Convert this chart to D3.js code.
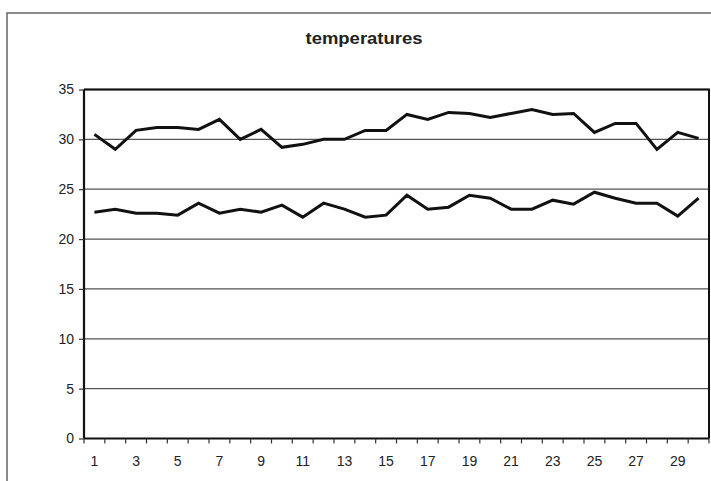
<!DOCTYPE html>
<meta charset="utf-8">
<style>
  body { margin: 0; background: #fff; }
  text { font-family: "Liberation Sans", Arial, sans-serif; fill: #222; }
  .line { fill: none; stroke: #111; stroke-width: 3px; stroke-linejoin: miter; }
</style>
<body>
<script src="https://cdn.jsdelivr.net/npm/d3@7/dist/d3.min.js"></script>
<script>
  var days = d3.range(1, 31)
  var highTemps = [30.5, 29.0, 30.9, 31.2, 31.2, 31.0, 32.0, 30.0, 31.0, 29.2,
    29.5, 30.0, 30.0, 30.9, 30.9, 32.5, 32.0, 32.7, 32.6, 32.2,
    32.6, 33.0, 32.5, 32.6, 30.7, 31.6, 31.6, 29.0, 30.7, 30.1]
  var lowTemps = [22.7, 23.0, 22.6, 22.6, 22.4, 23.6, 22.6, 23.0, 22.7, 23.4,
    22.2, 23.6, 23.0, 22.2, 22.4, 24.4, 23.0, 23.2, 24.4, 24.1,
    23.0, 23.0, 23.9, 23.5, 24.7, 24.1, 23.6, 23.6, 22.3, 24.1]
  var yTicks = [0, 5, 10, 15, 20, 25, 30, 35]
  var xLabels = days.filter(d => d % 2 == 1)

  var W = 711, H = 481
  var margin = { top: 89.5, right: 2, bottom: 42.5, left: 84 },
    width = W - margin.left - margin.right,
    height = H - margin.top - margin.bottom

  var root = d3.select("body").append("svg")
    .attr("width", W).attr("height", H)

  // outer frame
  root.append("rect")
    .attr("x", 7).attr("y", 13).attr("width", W + 10).attr("height", H + 10)
    .attr("fill", "none").attr("stroke", "#666").attr("stroke-width", 1.5)

  root.append("text")
    .attr("x", 364).attr("y", 44)
    .attr("text-anchor", "middle")
    .attr("textLength", 117).attr("lengthAdjust", "spacingAndGlyphs")
    .style("font-size", "16px").style("font-weight", "bold")
    .text("temperatures")

  var svg = root.append("g")
    .attr("transform", "translate(" + margin.left + "," + margin.top + ")")

  var x = d3.scaleBand().domain(days).range([0, width])
  var y = d3.scaleLinear().domain([0, 35]).range([height, 0])

  // gridlines
  svg.append("g").selectAll("line")
    .data(yTicks.filter(d => d > 0))
    .enter().append("line")
    .attr("x1", 0).attr("x2", width)
    .attr("y1", d => y(d)).attr("y2", d => y(d))
    .attr("stroke", "#555").attr("stroke-width", 1.3)

  // plot border (top/right)
  svg.append("path")
    .attr("d", "M0," + y(35) + "H" + width + "V" + height)
    .attr("fill", "none").attr("stroke", "#111").attr("stroke-width", 2)

  // y axis
  var yAxis = svg.append("g")
    .call(d3.axisLeft(y).tickValues(yTicks).tickSize(5).tickPadding(5))
  yAxis.select(".domain").attr("stroke", "#111").attr("stroke-width", 2.2)
    .attr("d", "M0,0V" + height)
  yAxis.selectAll(".tick line").attr("stroke", "#333").attr("stroke-width", 1.2)
  yAxis.selectAll("text").style("font-size", "14px").attr("fill", "#222")

  // x axis: ticks on category boundaries, labels on odd days
  var xg = svg.append("g").attr("transform", "translate(0," + height + ")")
  xg.append("line").attr("x1", 0).attr("x2", width)
    .attr("stroke", "#111").attr("stroke-width", 2.2)
  xg.selectAll(".bt").data(days.concat([31]))
    .enter().append("line").attr("class", "bt")
    .attr("x1", d => d <= 30 ? x(d) : width).attr("x2", d => d <= 30 ? x(d) : width)
    .attr("y1", 0).attr("y2", 5)
    .attr("stroke", "#333").attr("stroke-width", 1.2)
  xg.selectAll(".lbl").data(xLabels)
    .enter().append("text").attr("class", "lbl")
    .attr("x", d => x(d) + x.bandwidth() / 2)
    .attr("y", 27.5)
    .attr("text-anchor", "middle")
    .style("font-size", "14px")
    .text(d => d)

  var line = d3.line()
    .x((d, i) => x(days[i]) + x.bandwidth() / 2)
    .y(d => y(d))

  svg.append("path").datum(highTemps).attr("class", "line").attr("d", line)
  svg.append("path").datum(lowTemps).attr("class", "line").attr("d", line)
</script>
</body>
